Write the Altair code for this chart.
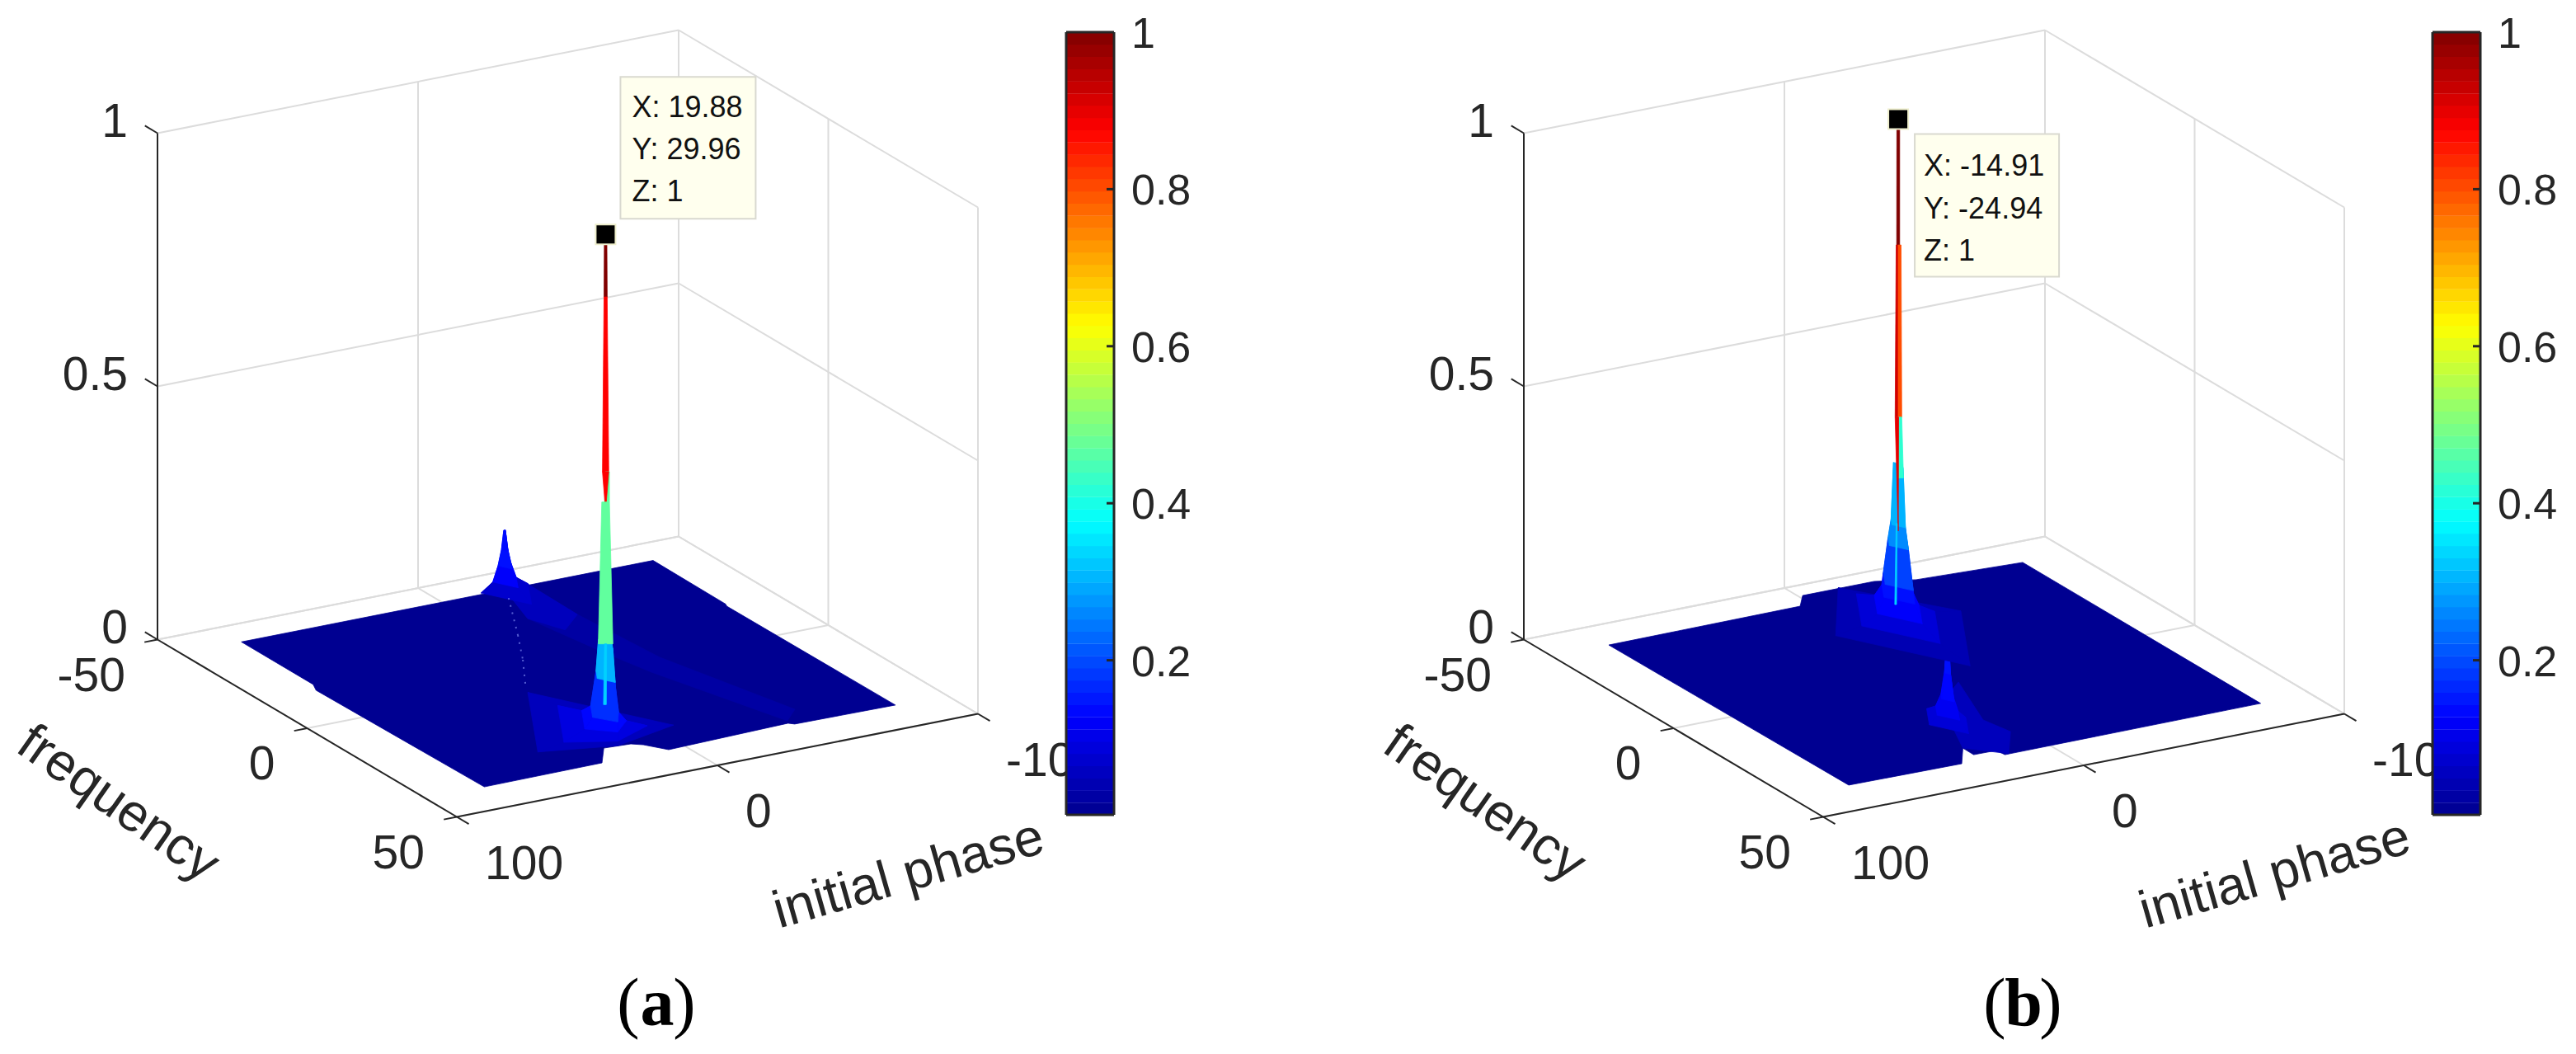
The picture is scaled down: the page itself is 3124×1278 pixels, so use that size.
import altair as alt
import pandas as pd

# ---------------------------------------------------------------- data values
Z_TICKS = [0, 0.5, 1]
Y_TICKS = [-50, 0, 50]
X_TICKS = [100, 0, -100]
CB_TICKS = [0.2, 0.4, 0.6, 0.8, 1]
CB_LEVELS = 64
JET_STOPS = [0, 0.125, 0.375, 0.625, 0.875, 1]
JET_COLORS = ["#00008f", "#0000ff", "#00ffff", "#ffff00", "#ff0000", "#800000"]

PEAK_A = (19.88, 29.96, 1)
PEAK_B = (-14.91, -24.94, 1)
TIP_A = ["X: 19.88", "Y: 29.96", "Z: 1"]
TIP_B = ["X: -14.91", "Y: -24.94", "Z: 1"]

# floor outlines (initial phase, frequency)
FLOOR_A = [(77, -42), (-81, -42), (-80.7, -17.5), (-80, -16.5), (-80.5, 39.4), (-42.3, 39), (-40.8, 38.1),
           (6.4, 39.3), (11.3, 35.1), (14.5, 33.7), (24.3, 33.2), (32, 39.3), (77.5, 39.6),
           (79, -15.3), (77, -18)]
FLOOR_B = [(78.2, -40.6), (4.3, -41), (-1.6, -45.3), (-29, -45.3), (-42, -42.5), (-81, -40.9), (-81, 38.6),
           (17.5, 38.9), (17.9, 36.4), (26.5, 36.3), (26.4, 32.6), (34.3, 39.1), (77.2, 38.7)]

# faint ridges (polygon vertices, colour value)
RIDGES_A = [
    ([(-24.1, -42), (-33.5, -42.6), (-33, -25.5), (-35.9, -0.5), (-49.5, 32.8), (-41.8, 37), (-26.3, 5.1), (-22, -7.8), (-16.7, -27.9)], 0.022),
    ([(-24.1, -42), (-33.5, -42.6), (-33, -25.5), (-22, -20), (-16.7, -27.9)], 0.05),
]
RIDGES_B = [
    ([(11, 11.9), (-4.4, 4.3), (6.9, 22.4), (4.7, 29.6), (15.9, 38.8), (26.4, 32.6)], 0.05),
]
DOTS_A = [(-21.2, -38.2), (-5.9, -21.8), (4.7, -10.9), (17.8, 1.5)]

# peak skirts: centre x, centre y, lower/upper frequency limit, levels (height, radius, colour value)
SKIRTS_A = [
    (-24, -42, -42, 40, [(0.003, 9, 0.03), (0.02, 4.5, 0.07), (0.05, 2.5, 0.12), (0.08, 1.2, 0.14), (0.118, 0.3, 0.135)]),
    (19.88, 29.96, -42, 34, [(0.003, 26, 0.02), (0.012, 16, 0.05), (0.03, 8, 0.09), (0.05, 5, 0.13), (0.125, 3.2, 0.17), (0.19, 2.4, 0.3)]),
]
SKIRTS_B = [
    (18.7, 20.8, -42, 36, [(0.004, 7, 0.03), (0.02, 4, 0.08), (0.05, 2.2, 0.11), (0.1, 1, 0.13), (0.17, 0.3, 0.14)]),
    (-14.91, -24.94, -45, 38, [(0.003, 24, 0.015), (0.012, 14, 0.04), (0.03, 8, 0.08), (0.06, 5.5, 0.12), (0.085, 5, 0.14), (0.16, 3.4, 0.19), (0.2, 2.4, 0.26), (0.315, 1.6, 0.3)]),
]
# narrow facets of the spike: z0, z1, left0, right0, left1, right1, colour value
SPIKE_A = [
    (0.875, 1.0, -0.45, 0.45, -0.35, 0.35, 1.0),
    (0.53, 0.875, -0.9, 0.9, -0.45, 0.45, 0.875),
    (0.47, 0.53, -0.3, 1.1, 0, 1.1, 0.47),
    (0.47, 0.53, -0.2, 0.2, -0.9, 0.9, 0.875),
    (0.19, 0.47, -2.1, 2.1, -1.1, 1.1, 0.47),
    (0.07, 0.19, -0.6, 0.2, -0.3, 0.3, 0.33),
]
SPIKE_B = [
    (0.75, 1.0, -0.45, 0.4, -0.4, 0.4, 1.0),
    (0.41, 0.75, -0.9, 0, -0.6, 0, 0.92),
    (0.41, 0.75, 0, 1.0, 0, 0.8, 0.8),
    (0.29, 0.41, 0, 1.5, 0, 1.0, 0.42),
    (0.185, 0.41, 0, 0, -0.9, 0.1, 0.9),
    (0.04, 0.2, -1.0, -0.5, -0.6, -0.3, 0.33),
]

PANELS = [
    dict(off=0, floor=FLOOR_A, ridges=RIDGES_A, dots=DOTS_A, skirts=SKIRTS_A, spike=SPIKE_A, peak=PEAK_A,
         tip=TIP_A, box=(18, 182, -191, -19), txt=(32, [-142, -91, -40]), name="a"),
    dict(off=1657, floor=FLOOR_B, ridges=RIDGES_B, dots=[], skirts=SKIRTS_B, spike=SPIKE_B, peak=PEAK_B,
         tip=TIP_B, box=(20, 195, 18, 191), txt=(31, [68, 120, 171]), name="b"),
]

# ---------------------------------------------------------------- view of the 3-D box
CX, CY = 688.5, 820.5
EX, EY = (-3.16, 0.625), (3.63, 2.15)
ZS = 614
XLO, XHI, YLO, YHI = -100, 100, -50, 50
CB = dict(left=1293, right=1351, top=39, bottom=988)
INK = "#262626"
GRID = "#dcdcdc"


def P(x, y, z, off=0):
    return (CX + x * EX[0] + y * EY[0] + off, CY + x * EX[1] + y * EY[1] - z * ZS)


polys, grid, axes, dots, t_right, t_left, cb_rows, cb_lines = [], [], [], [], [], [], [], []
marks, boxes, tips, parens, bolds, xlabs, ylabs = [], [], [], [], [], [], []
pid = [0]


def add_poly(pts, v, off):
    pid[0] += 1
    closed = list(pts) + [pts[0]]
    for i, p in enumerate(closed):
        sx, sy = P(p[0], p[1], p[2] if len(p) > 2 else 0, off)
        polys.append(dict(pid=pid[0], o=i, px=sx, py=sy, v=v))


def seg(rows, a, b, off=0):
    p, q = P(*a, off), P(*b, off)
    rows.append(dict(px=p[0], py=p[1], px2=q[0], py2=q[1]))


for pn in PANELS:
    off = pn["off"]
    # walls and floor grid
    for z in Z_TICKS:
        seg(grid, (XHI, YLO, z), (XLO, YLO, z), off)
        seg(grid, (XLO, YLO, z), (XLO, YHI, z), off)
    for x in X_TICKS:
        seg(grid, (x, YLO, 0), (x, YLO, 1), off)
        seg(grid, (x, YLO, 0), (x, YHI, 0), off)
    for y in Y_TICKS:
        seg(grid, (XLO, y, 0), (XLO, y, 1), off)
        seg(grid, (XHI, y, 0), (XLO, y, 0), off)
    # box axes
    seg(axes, (XHI, YLO, 0), (XHI, YLO, 1), off)
    seg(axes, (XHI, YLO, 0), (XHI, YHI, 0), off)
    seg(axes, (XHI, YHI, 0), (XLO, YHI, 0), off)
    for z in Z_TICKS:
        seg(axes, (XHI, YLO, z), (XHI, YLO - 4.2, z), off)
        p = P(XHI, YLO, z, off)
        t_right.append(dict(px=p[0] - 36, py=p[1] - 13, t=f"{z:g}"))
    for y in Y_TICKS:
        seg(axes, (XHI, y, 0), (XHI + 5, y, 0), off)
        p = P(XHI, y, 0, off)
        t_right.append(dict(px=p[0] - 39, py=p[1] + 45, t=f"{y:g}"))
    for x in X_TICKS:
        seg(axes, (x, YHI, 0), (x, YHI + 4, 0), off)
        p = P(x, YHI, 0, off)
        t_left.append(dict(px=p[0] + 34, py=p[1] + 58, t=f"{x:g}"))
    ylabs.append(dict(px=143 + off, py=975, t="frequency"))
    xlabs.append(dict(px=1102 + off, py=1061, t="initial phase"))

    # surface
    add_poly(pn["floor"], 0.002, off)
    for pts, v in pn["ridges"]:
        add_poly(pts, v, off)
    for a, b in zip(pn["dots"][:-1], pn["dots"][1:]):
        seg(dots, (a[0], a[1], 0), (b[0], b[1], 0), off)
    for x0, y0, ymin, ymax, levels in pn["skirts"]:
        def ring(r, z):
            raw = [(x0 - r, y0), (x0, y0 - r), (x0 + r, y0), (x0, y0 + r)]
            return [(x, min(max(y, ymin), ymax), z) for x, y in raw]
        for lo, hi in zip(levels[:-1], levels[1:]):
            rl, ru = ring(lo[1], lo[0]), ring(hi[1], hi[0])
            faces = [[rl[i], rl[(i + 1) % 4], ru[(i + 1) % 4], ru[i]] for i in range(4)]
            faces.sort(key=lambda f: sum(P(*q)[1] for q in f[:2]))
            for f in faces:
                add_poly(f, hi[2], off)
    x0, y0, z0 = pn["peak"]
    for zl, zu, l0, r0, l1, r1, v in pn["spike"]:
        add_poly([(x0 - l0, y0 + 0.29 * l0, zl), (x0 - r0, y0 + 0.29 * r0, zl),
                  (x0 - r1, y0 + 0.29 * r1, zu), (x0 - l1, y0 + 0.29 * l1, zu)], v, off)

    # colour bar
    L, R, T, B = CB["left"] + off, CB["right"] + off, CB["top"], CB["bottom"]
    H = B - T
    for i in range(CB_LEVELS):
        cb_rows.append(dict(px=L, px2=R, py=B - H * i / CB_LEVELS + 0.4, py2=B - H * (i + 1) / CB_LEVELS,
                            v=(i + 0.5) / CB_LEVELS))
    for a in [(L, T, R, T), (R, T, R, B), (R, B, L, B), (L, B, L, T)]:
        cb_lines.append(dict(px=a[0], py=a[1], px2=a[2], py2=a[3]))
    for v in CB_TICKS:
        yy = T + (1 - v) * 952
        if v < 1:
            cb_lines.append(dict(px=R - 9, py=yy, px2=R, py2=yy))
        t_left.append(dict(px=R + 21, py=yy + 3, t=f"{v:g}", small=True))

    # data tip
    mx, my = P(x0, y0, z0, off)
    my += 1
    marks.append(dict(px=mx, py=my))
    bx = pn["box"]
    boxes.append(dict(px=mx + bx[0], px2=mx + bx[1], py=my + bx[2], py2=my + bx[3]))
    for s, dy in zip(pn["tip"], pn["txt"][1]):
        tips.append(dict(px=mx + pn["txt"][0], py=my + dy, t=s))
    parens.append(dict(px=762 + off, py=1243, t="("))
    parens.append(dict(px=830 + off, py=1243, t=")"))
    bolds.append(dict(px=797 + off, py=1243, t=pn["name"]))

# ---------------------------------------------------------------- chart
W, H_ = 3100, 1255
XS = alt.Scale(domain=[8, 8 + W], range=[0, W], nice=False, zero=False)
YS = alt.Scale(domain=[8 + H_, 8], nice=False, zero=False)
JET = alt.Scale(domain=JET_STOPS, range=JET_COLORS, interpolate="rgb")
X = alt.X("px:Q", scale=XS, axis=None)
Y = alt.Y("py:Q", scale=YS, axis=None)


def rules(rows, **kw):
    return alt.Chart(pd.DataFrame(rows)).mark_rule(**kw).encode(X, Y, x2="px2:Q", y2="py2:Q")


def texts(rows, **kw):
    return alt.Chart(pd.DataFrame(rows)).mark_text(font="Liberation Sans", **kw).encode(X, Y, text="t:N")


small = [r for r in t_left if r.get("small")]
big_left = [r for r in t_left if not r.get("small")]

surface = alt.Chart(pd.DataFrame(polys)).mark_line(strokeWidth=0.8, interpolate="linear").encode(
    X, Y, order="o:Q", detail="pid:N",
    fill=alt.Fill("v:Q", scale=JET, legend=None),
    stroke=alt.Stroke("v:Q", scale=JET, legend=None),
)
cbar = alt.Chart(pd.DataFrame(cb_rows)).mark_rect().encode(
    X, Y, x2="px2:Q", y2="py2:Q", fill=alt.Fill("v:Q", scale=JET, legend=None))
marker = alt.Chart(pd.DataFrame(marks)).mark_square(size=576, color="#000000", stroke="#eeeecc", strokeWidth=2, opacity=1).encode(X, Y)
box = alt.Chart(pd.DataFrame(boxes)).mark_rect(fill="#ffffee", stroke="#d9d9d0", strokeWidth=2).encode(X, Y, x2="px2:Q", y2="py2:Q")

chart = alt.layer(
    rules(grid, color=GRID, strokeWidth=2),
    rules(axes, color=INK, strokeWidth=2),
    texts(t_right, fontSize=57, color=INK, align="right", baseline="middle"),
    texts(big_left, fontSize=57, color=INK, align="left", baseline="middle"),
    texts(ylabs, fontSize=64, color=INK, align="center", baseline="middle", angle=35),
    texts(xlabs, fontSize=64, color=INK, align="center", baseline="middle", angle=344),
    surface,
    rules(dots, color="#8f9cff", strokeWidth=2, strokeDash=[2, 7], opacity=0.6),
    cbar,
    rules(cb_lines, color=INK, strokeWidth=3),
    texts(small, fontSize=52, color=INK, align="left", baseline="middle"),
    box,
    marker,
    texts(tips, fontSize=36, color="#111111", align="left", baseline="alphabetic"),
    alt.Chart(pd.DataFrame(parens)).mark_text(font="Liberation Serif", fontSize=82, color="#000000", align="center", baseline="alphabetic").encode(X, Y, text="t:N"),
    alt.Chart(pd.DataFrame(bolds)).mark_text(font="Liberation Serif", fontWeight="bold", fontSize=82, color="#000000", align="center", baseline="alphabetic").encode(X, Y, text="t:N"),
).properties(width=W, height=H_, padding=0).configure_view(stroke=None)

chart.save("out.html", embed_options={"renderer": "svg", "actions": False})
